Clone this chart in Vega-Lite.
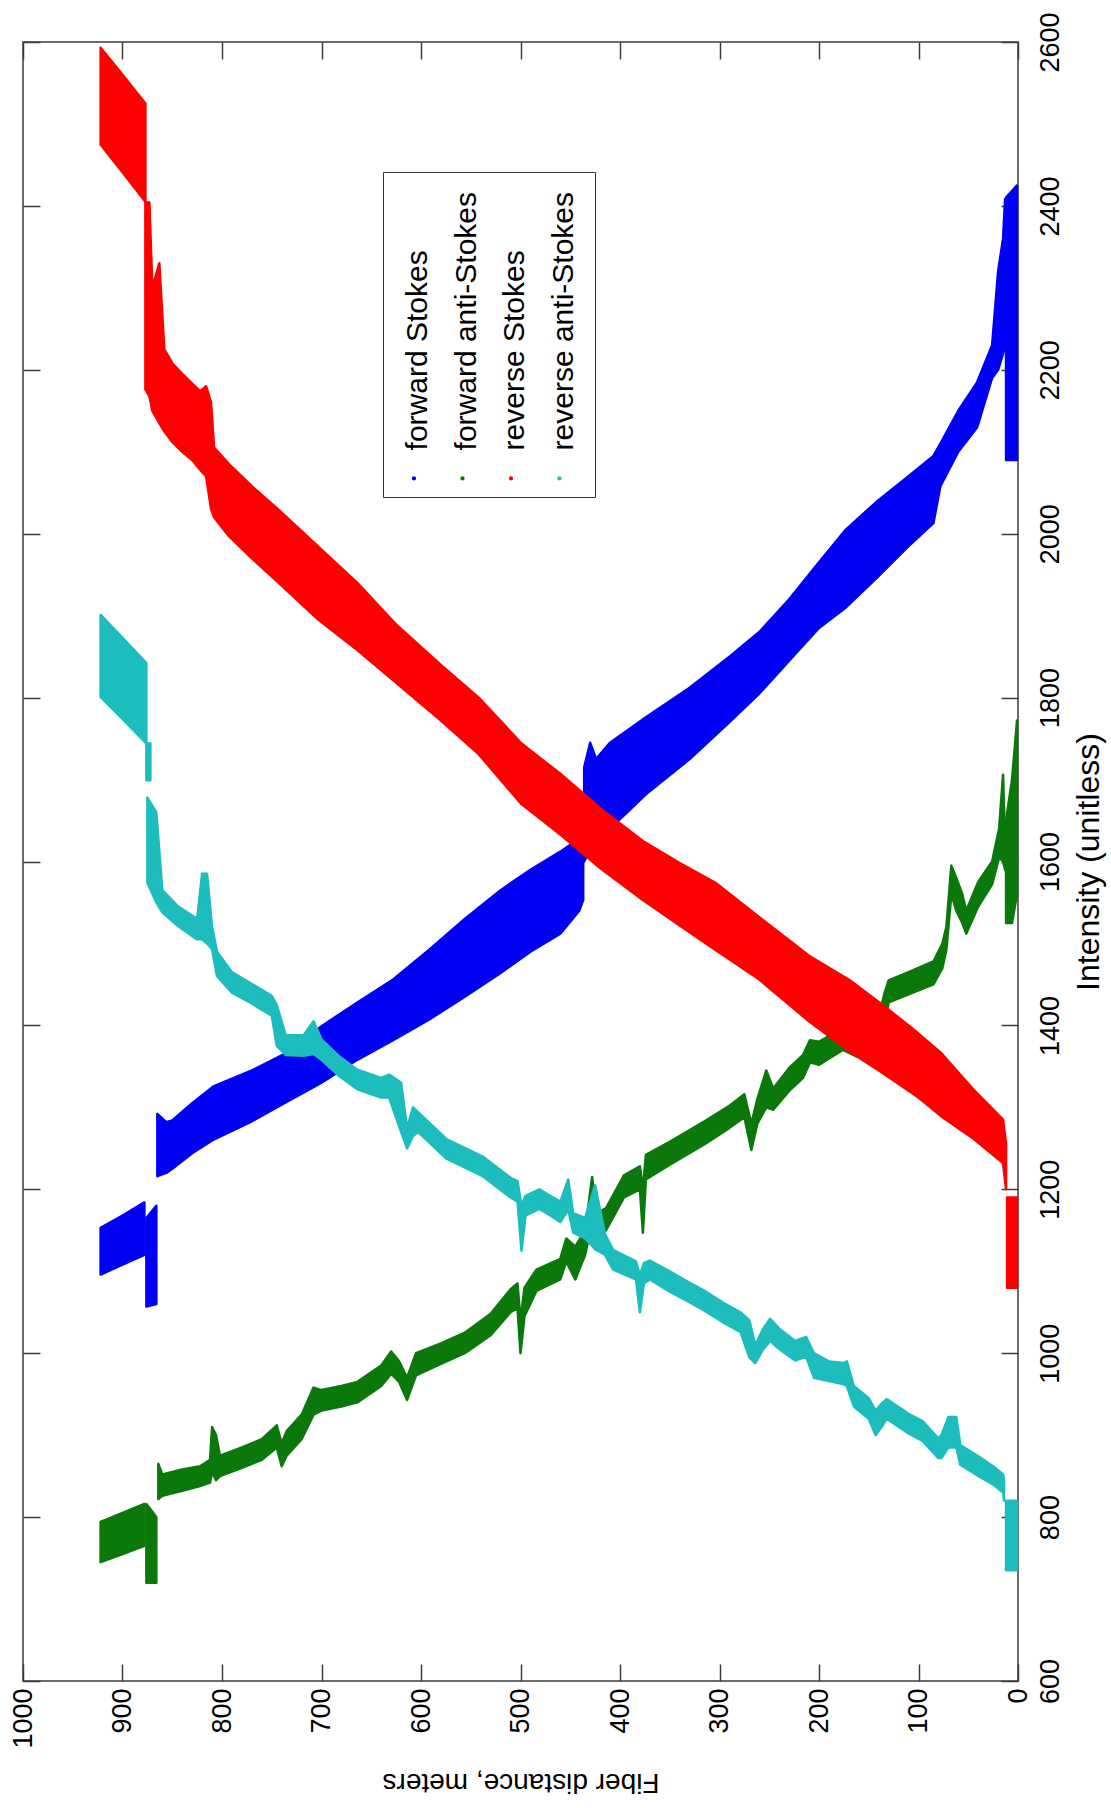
{
  "$schema": "https://vega.github.io/schema/vega-lite/v6.json",
  "width": 995,
  "height": 1639,
  "autosize": {"type": "none"},
  "padding": {"left": 23, "top": 42, "right": 93, "bottom": 127},
  "background": "white",
  "config": {
    "view": {"stroke": "#3c3c3c", "strokeWidth": 1.5},
    "font": "Liberation Sans",
    "axis": {"grid": false, "domain": false, "tickColor": "#3c3c3c", "tickWidth": 1.5, "labelColor": "black", "titleColor": "black", "labelFont": "Liberation Sans", "titleFont": "Liberation Sans", "labelFontSize": 27, "titleFontSize": 29, "titleFontWeight": "normal", "labelFlush": false, "labelOverlap": false, "labelBound": false, "format": "d"}
  },
  "datasets": {
    "bands": [
      {"s":"forward Stokes","g":"b1","d":922,"lo":1096,"hi":1153},
      {"s":"forward Stokes","g":"b1","d":900,"lo":1108,"hi":1168},
      {"s":"forward Stokes","g":"b1","d":878,"lo":1120,"hi":1184},
      {"s":"forward Stokes","g":"b2","d":876,"lo":1057,"hi":1165},
      {"s":"forward Stokes","g":"b2","d":866,"lo":1060,"hi":1180},
      {"s":"forward Stokes","g":"b3","d":865,"lo":1216,"hi":1292},
      {"s":"forward Stokes","g":"b3","d":856,"lo":1220,"hi":1282},
      {"s":"forward Stokes","g":"b3","d":850,"lo":1225,"hi":1284},
      {"s":"forward Stokes","g":"b3","d":830,"lo":1244,"hi":1305},
      {"s":"forward Stokes","g":"b3","d":808,"lo":1261,"hi":1326},
      {"s":"forward Stokes","g":"b3","d":770,"lo":1283,"hi":1345},
      {"s":"forward Stokes","g":"b3","d":736,"lo":1306,"hi":1366},
      {"s":"forward Stokes","g":"b3","d":700,"lo":1330,"hi":1399},
      {"s":"forward Stokes","g":"b3","d":664,"lo":1358,"hi":1428},
      {"s":"forward Stokes","g":"b3","d":628,"lo":1382,"hi":1456},
      {"s":"forward Stokes","g":"b3","d":592,"lo":1407,"hi":1492},
      {"s":"forward Stokes","g":"b3","d":556,"lo":1435,"hi":1530},
      {"s":"forward Stokes","g":"b3","d":520,"lo":1464,"hi":1565},
      {"s":"forward Stokes","g":"b3","d":490,"lo":1490,"hi":1590},
      {"s":"forward Stokes","g":"b3","d":460,"lo":1512,"hi":1612},
      {"s":"forward Stokes","g":"b3","d":441,"lo":1540,"hi":1628},
      {"s":"forward Stokes","g":"b3","d":437,"lo":1553,"hi":1632},
      {"s":"forward Stokes","g":"b4","d":436,"lo":1600,"hi":1715},
      {"s":"forward Stokes","g":"b4","d":430,"lo":1615,"hi":1745},
      {"s":"forward Stokes","g":"b4","d":424,"lo":1622,"hi":1725},
      {"s":"forward Stokes","g":"b4","d":410,"lo":1640,"hi":1745},
      {"s":"forward Stokes","g":"b4","d":374,"lo":1682,"hi":1776},
      {"s":"forward Stokes","g":"b4","d":330,"lo":1725,"hi":1812},
      {"s":"forward Stokes","g":"b4","d":290,"lo":1770,"hi":1850},
      {"s":"forward Stokes","g":"b4","d":260,"lo":1805,"hi":1880},
      {"s":"forward Stokes","g":"b4","d":230,"lo":1845,"hi":1920},
      {"s":"forward Stokes","g":"b4","d":200,"lo":1885,"hi":1965},
      {"s":"forward Stokes","g":"b4","d":173,"lo":1910,"hi":2005},
      {"s":"forward Stokes","g":"b4","d":143,"lo":1945,"hi":2038},
      {"s":"forward Stokes","g":"b4","d":110,"lo":1985,"hi":2070},
      {"s":"forward Stokes","g":"b4","d":85,"lo":2013,"hi":2095},
      {"s":"forward Stokes","g":"b4","d":78,"lo":2058,"hi":2110},
      {"s":"forward Stokes","g":"b4","d":60,"lo":2100,"hi":2150},
      {"s":"forward Stokes","g":"b4","d":41,"lo":2130,"hi":2185},
      {"s":"forward Stokes","g":"b4","d":26,"lo":2190,"hi":2230},
      {"s":"forward Stokes","g":"b4","d":20,"lo":2200,"hi":2320},
      {"s":"forward Stokes","g":"b4","d":15,"lo":2220,"hi":2360},
      {"s":"forward Stokes","g":"b4","d":13,"lo":2230,"hi":2408},
      {"s":"forward Stokes","g":"b5","d":12,"lo":2090,"hi":2410},
      {"s":"forward Stokes","g":"b5","d":1,"lo":2090,"hi":2425},

      {"s":"forward anti-Stokes","g":"g1","d":922,"lo":745,"hi":794},
      {"s":"forward anti-Stokes","g":"g1","d":900,"lo":755,"hi":805},
      {"s":"forward anti-Stokes","g":"g1","d":878,"lo":765,"hi":816},
      {"s":"forward anti-Stokes","g":"g2","d":876,"lo":720,"hi":816},
      {"s":"forward anti-Stokes","g":"g2","d":866,"lo":720,"hi":800},
      {"s":"forward anti-Stokes","g":"g3","d":864,"lo":822,"hi":865},
      {"s":"forward anti-Stokes","g":"g3","d":860,"lo":826,"hi":852},
      {"s":"forward anti-Stokes","g":"g3","d":840,"lo":832,"hi":858},
      {"s":"forward anti-Stokes","g":"g3","d":822,"lo":838,"hi":862},
      {"s":"forward anti-Stokes","g":"g3","d":812,"lo":842,"hi":870},
      {"s":"forward anti-Stokes","g":"g3","d":810,"lo":855,"hi":910},
      {"s":"forward anti-Stokes","g":"g3","d":806,"lo":845,"hi":900},
      {"s":"forward anti-Stokes","g":"g3","d":802,"lo":850,"hi":875},
      {"s":"forward anti-Stokes","g":"g3","d":780,"lo":860,"hi":885},
      {"s":"forward anti-Stokes","g":"g3","d":760,"lo":870,"hi":895},
      {"s":"forward anti-Stokes","g":"g3","d":745,"lo":885,"hi":912},
      {"s":"forward anti-Stokes","g":"g3","d":740,"lo":862,"hi":890},
      {"s":"forward anti-Stokes","g":"g3","d":735,"lo":875,"hi":905},
      {"s":"forward anti-Stokes","g":"g3","d":720,"lo":895,"hi":925},
      {"s":"forward anti-Stokes","g":"g3","d":708,"lo":925,"hi":958},
      {"s":"forward anti-Stokes","g":"g3","d":700,"lo":930,"hi":955},
      {"s":"forward anti-Stokes","g":"g3","d":680,"lo":935,"hi":960},
      {"s":"forward anti-Stokes","g":"g3","d":664,"lo":940,"hi":965},
      {"s":"forward anti-Stokes","g":"g3","d":640,"lo":960,"hi":985},
      {"s":"forward anti-Stokes","g":"g3","d":630,"lo":975,"hi":1002},
      {"s":"forward anti-Stokes","g":"g3","d":622,"lo":965,"hi":990},
      {"s":"forward anti-Stokes","g":"g3","d":614,"lo":943,"hi":970},
      {"s":"forward anti-Stokes","g":"g3","d":605,"lo":973,"hi":1000},
      {"s":"forward anti-Stokes","g":"g3","d":580,"lo":987,"hi":1012},
      {"s":"forward anti-Stokes","g":"g3","d":556,"lo":1000,"hi":1025},
      {"s":"forward anti-Stokes","g":"g3","d":530,"lo":1022,"hi":1048},
      {"s":"forward anti-Stokes","g":"g3","d":510,"lo":1050,"hi":1078},
      {"s":"forward anti-Stokes","g":"g3","d":503,"lo":1055,"hi":1085},
      {"s":"forward anti-Stokes","g":"g3","d":500,"lo":1000,"hi":1040},
      {"s":"forward anti-Stokes","g":"g3","d":496,"lo":1045,"hi":1080},
      {"s":"forward anti-Stokes","g":"g3","d":484,"lo":1076,"hi":1102},
      {"s":"forward anti-Stokes","g":"g3","d":460,"lo":1090,"hi":1115},
      {"s":"forward anti-Stokes","g":"g3","d":454,"lo":1112,"hi":1140},
      {"s":"forward anti-Stokes","g":"g3","d":445,"lo":1090,"hi":1130},
      {"s":"forward anti-Stokes","g":"g3","d":435,"lo":1120,"hi":1150},
      {"s":"forward anti-Stokes","g":"g3","d":428,"lo":1160,"hi":1215},
      {"s":"forward anti-Stokes","g":"g3","d":424,"lo":1140,"hi":1170},
      {"s":"forward anti-Stokes","g":"g3","d":414,"lo":1150,"hi":1177},
      {"s":"forward anti-Stokes","g":"g3","d":396,"lo":1190,"hi":1217},
      {"s":"forward anti-Stokes","g":"g3","d":380,"lo":1200,"hi":1228},
      {"s":"forward anti-Stokes","g":"g3","d":377,"lo":1147,"hi":1200},
      {"s":"forward anti-Stokes","g":"g3","d":374,"lo":1212,"hi":1242},
      {"s":"forward anti-Stokes","g":"g3","d":350,"lo":1230,"hi":1258},
      {"s":"forward anti-Stokes","g":"g3","d":315,"lo":1255,"hi":1283},
      {"s":"forward anti-Stokes","g":"g3","d":290,"lo":1275,"hi":1302},
      {"s":"forward anti-Stokes","g":"g3","d":275,"lo":1288,"hi":1316},
      {"s":"forward anti-Stokes","g":"g3","d":268,"lo":1248,"hi":1280},
      {"s":"forward anti-Stokes","g":"g3","d":262,"lo":1280,"hi":1310},
      {"s":"forward anti-Stokes","g":"g3","d":253,"lo":1300,"hi":1345},
      {"s":"forward anti-Stokes","g":"g3","d":246,"lo":1297,"hi":1323},
      {"s":"forward anti-Stokes","g":"g3","d":230,"lo":1320,"hi":1348},
      {"s":"forward anti-Stokes","g":"g3","d":216,"lo":1336,"hi":1364},
      {"s":"forward anti-Stokes","g":"g3","d":209,"lo":1355,"hi":1382},
      {"s":"forward anti-Stokes","g":"g3","d":200,"lo":1352,"hi":1380},
      {"s":"forward anti-Stokes","g":"g3","d":176,"lo":1370,"hi":1397},
      {"s":"forward anti-Stokes","g":"g3","d":162,"lo":1362,"hi":1390},
      {"s":"forward anti-Stokes","g":"g3","d":150,"lo":1375,"hi":1402},
      {"s":"forward anti-Stokes","g":"g3","d":140,"lo":1380,"hi":1410},
      {"s":"forward anti-Stokes","g":"g3","d":134,"lo":1400,"hi":1440},
      {"s":"forward anti-Stokes","g":"g3","d":130,"lo":1428,"hi":1455},
      {"s":"forward anti-Stokes","g":"g3","d":110,"lo":1438,"hi":1465},
      {"s":"forward anti-Stokes","g":"g3","d":85,"lo":1450,"hi":1478},
      {"s":"forward anti-Stokes","g":"g3","d":76,"lo":1470,"hi":1500},
      {"s":"forward anti-Stokes","g":"g3","d":72,"lo":1492,"hi":1520},
      {"s":"forward anti-Stokes","g":"g3","d":67,"lo":1560,"hi":1595},
      {"s":"forward anti-Stokes","g":"g3","d":62,"lo":1540,"hi":1580},
      {"s":"forward anti-Stokes","g":"g3","d":56,"lo":1525,"hi":1560},
      {"s":"forward anti-Stokes","g":"g3","d":52,"lo":1512,"hi":1540},
      {"s":"forward anti-Stokes","g":"g3","d":40,"lo":1545,"hi":1575},
      {"s":"forward anti-Stokes","g":"g3","d":26,"lo":1572,"hi":1600},
      {"s":"forward anti-Stokes","g":"g3","d":19,"lo":1605,"hi":1640},
      {"s":"forward anti-Stokes","g":"g3","d":15,"lo":1600,"hi":1706},
      {"s":"forward anti-Stokes","g":"g3","d":13,"lo":1590,"hi":1620},
      {"s":"forward anti-Stokes","g":"g4","d":12,"lo":1525,"hi":1650},
      {"s":"forward anti-Stokes","g":"g4","d":6,"lo":1525,"hi":1700},
      {"s":"forward anti-Stokes","g":"g4","d":1,"lo":1560,"hi":1772},

      {"s":"reverse Stokes","g":"r1","d":922,"lo":2475,"hi":2593},
      {"s":"reverse Stokes","g":"r1","d":900,"lo":2441,"hi":2560},
      {"s":"reverse Stokes","g":"r1","d":877,"lo":2405,"hi":2525},
      {"s":"reverse Stokes","g":"r2","d":877,"lo":2176,"hi":2404},
      {"s":"reverse Stokes","g":"r2","d":873,"lo":2168,"hi":2404},
      {"s":"reverse Stokes","g":"r2","d":870,"lo":2150,"hi":2300},
      {"s":"reverse Stokes","g":"r2","d":863,"lo":2135,"hi":2330},
      {"s":"reverse Stokes","g":"r2","d":858,"lo":2125,"hi":2225},
      {"s":"reverse Stokes","g":"r2","d":850,"lo":2112,"hi":2208},
      {"s":"reverse Stokes","g":"r2","d":840,"lo":2100,"hi":2195},
      {"s":"reverse Stokes","g":"r2","d":830,"lo":2090,"hi":2183},
      {"s":"reverse Stokes","g":"r2","d":822,"lo":2078,"hi":2174},
      {"s":"reverse Stokes","g":"r2","d":816,"lo":2070,"hi":2180},
      {"s":"reverse Stokes","g":"r2","d":811,"lo":2030,"hi":2160},
      {"s":"reverse Stokes","g":"r2","d":808,"lo":2020,"hi":2105},
      {"s":"reverse Stokes","g":"r2","d":793,"lo":1997,"hi":2085},
      {"s":"reverse Stokes","g":"r2","d":770,"lo":1970,"hi":2058},
      {"s":"reverse Stokes","g":"r2","d":743,"lo":1940,"hi":2029},
      {"s":"reverse Stokes","g":"r2","d":703,"lo":1895,"hi":1984},
      {"s":"reverse Stokes","g":"r2","d":664,"lo":1858,"hi":1940},
      {"s":"reverse Stokes","g":"r2","d":624,"lo":1817,"hi":1888},
      {"s":"reverse Stokes","g":"r2","d":580,"lo":1772,"hi":1840},
      {"s":"reverse Stokes","g":"r2","d":542,"lo":1731,"hi":1800},
      {"s":"reverse Stokes","g":"r2","d":499,"lo":1670,"hi":1744},
      {"s":"reverse Stokes","g":"r2","d":460,"lo":1633,"hi":1707},
      {"s":"reverse Stokes","g":"r2","d":420,"lo":1592,"hi":1665},
      {"s":"reverse Stokes","g":"r2","d":377,"lo":1553,"hi":1625},
      {"s":"reverse Stokes","g":"r2","d":340,"lo":1522,"hi":1598},
      {"s":"reverse Stokes","g":"r2","d":304,"lo":1492,"hi":1574},
      {"s":"reverse Stokes","g":"r2","d":260,"lo":1456,"hi":1532},
      {"s":"reverse Stokes","g":"r2","d":210,"lo":1405,"hi":1485},
      {"s":"reverse Stokes","g":"r2","d":169,"lo":1368,"hi":1455},
      {"s":"reverse Stokes","g":"r2","d":136,"lo":1342,"hi":1425},
      {"s":"reverse Stokes","g":"r2","d":100,"lo":1312,"hi":1390},
      {"s":"reverse Stokes","g":"r2","d":77,"lo":1289,"hi":1366},
      {"s":"reverse Stokes","g":"r2","d":45,"lo":1262,"hi":1322},
      {"s":"reverse Stokes","g":"r2","d":15,"lo":1232,"hi":1285},
      {"s":"reverse Stokes","g":"r2","d":12,"lo":1200,"hi":1255},
      {"s":"reverse Stokes","g":"r3","d":11,"lo":1080,"hi":1190},
      {"s":"reverse Stokes","g":"r3","d":1,"lo":1080,"hi":1190},

      {"s":"reverse anti-Stokes","g":"c1","d":922,"lo":1801,"hi":1901},
      {"s":"reverse anti-Stokes","g":"c1","d":900,"lo":1774,"hi":1873},
      {"s":"reverse anti-Stokes","g":"c1","d":876,"lo":1744,"hi":1842},
      {"s":"reverse anti-Stokes","g":"c2","d":876,"lo":1699,"hi":1744},
      {"s":"reverse anti-Stokes","g":"c2","d":872,"lo":1699,"hi":1744},
      {"s":"reverse anti-Stokes","g":"c3","d":875,"lo":1574,"hi":1678},
      {"s":"reverse anti-Stokes","g":"c3","d":866,"lo":1550,"hi":1660},
      {"s":"reverse anti-Stokes","g":"c3","d":860,"lo":1538,"hi":1565},
      {"s":"reverse anti-Stokes","g":"c3","d":844,"lo":1521,"hi":1545},
      {"s":"reverse anti-Stokes","g":"c3","d":825,"lo":1505,"hi":1530},
      {"s":"reverse anti-Stokes","g":"c3","d":820,"lo":1505,"hi":1585},
      {"s":"reverse anti-Stokes","g":"c3","d":815,"lo":1500,"hi":1585},
      {"s":"reverse anti-Stokes","g":"c3","d":810,"lo":1493,"hi":1520},
      {"s":"reverse anti-Stokes","g":"c3","d":805,"lo":1460,"hi":1490},
      {"s":"reverse anti-Stokes","g":"c3","d":790,"lo":1440,"hi":1465},
      {"s":"reverse anti-Stokes","g":"c3","d":772,"lo":1428,"hi":1452},
      {"s":"reverse anti-Stokes","g":"c3","d":750,"lo":1412,"hi":1436},
      {"s":"reverse anti-Stokes","g":"c3","d":745,"lo":1375,"hi":1425},
      {"s":"reverse anti-Stokes","g":"c3","d":736,"lo":1364,"hi":1388},
      {"s":"reverse anti-Stokes","g":"c3","d":718,"lo":1363,"hi":1388},
      {"s":"reverse anti-Stokes","g":"c3","d":708,"lo":1365,"hi":1405},
      {"s":"reverse anti-Stokes","g":"c3","d":700,"lo":1358,"hi":1383},
      {"s":"reverse anti-Stokes","g":"c3","d":682,"lo":1338,"hi":1362},
      {"s":"reverse anti-Stokes","g":"c3","d":664,"lo":1322,"hi":1346},
      {"s":"reverse anti-Stokes","g":"c3","d":640,"lo":1312,"hi":1336},
      {"s":"reverse anti-Stokes","g":"c3","d":632,"lo":1312,"hi":1340},
      {"s":"reverse anti-Stokes","g":"c3","d":620,"lo":1270,"hi":1330},
      {"s":"reverse anti-Stokes","g":"c3","d":614,"lo":1250,"hi":1275},
      {"s":"reverse anti-Stokes","g":"c3","d":608,"lo":1265,"hi":1300},
      {"s":"reverse anti-Stokes","g":"c3","d":603,"lo":1270,"hi":1294},
      {"s":"reverse anti-Stokes","g":"c3","d":574,"lo":1237,"hi":1261},
      {"s":"reverse anti-Stokes","g":"c3","d":538,"lo":1216,"hi":1240},
      {"s":"reverse anti-Stokes","g":"c3","d":510,"lo":1190,"hi":1214},
      {"s":"reverse anti-Stokes","g":"c3","d":503,"lo":1185,"hi":1210},
      {"s":"reverse anti-Stokes","g":"c3","d":499,"lo":1125,"hi":1180},
      {"s":"reverse anti-Stokes","g":"c3","d":495,"lo":1168,"hi":1192},
      {"s":"reverse anti-Stokes","g":"c3","d":481,"lo":1176,"hi":1200},
      {"s":"reverse anti-Stokes","g":"c3","d":470,"lo":1168,"hi":1192},
      {"s":"reverse anti-Stokes","g":"c3","d":460,"lo":1160,"hi":1185},
      {"s":"reverse anti-Stokes","g":"c3","d":452,"lo":1175,"hi":1212},
      {"s":"reverse anti-Stokes","g":"c3","d":447,"lo":1147,"hi":1171},
      {"s":"reverse anti-Stokes","g":"c3","d":435,"lo":1140,"hi":1165},
      {"s":"reverse anti-Stokes","g":"c3","d":425,"lo":1127,"hi":1205},
      {"s":"reverse anti-Stokes","g":"c3","d":415,"lo":1120,"hi":1145},
      {"s":"reverse anti-Stokes","g":"c3","d":407,"lo":1102,"hi":1126},
      {"s":"reverse anti-Stokes","g":"c3","d":384,"lo":1090,"hi":1112},
      {"s":"reverse anti-Stokes","g":"c3","d":380,"lo":1050,"hi":1095},
      {"s":"reverse anti-Stokes","g":"c3","d":376,"lo":1085,"hi":1110},
      {"s":"reverse anti-Stokes","g":"c3","d":370,"lo":1090,"hi":1113},
      {"s":"reverse anti-Stokes","g":"c3","d":350,"lo":1075,"hi":1100},
      {"s":"reverse anti-Stokes","g":"c3","d":333,"lo":1064,"hi":1088},
      {"s":"reverse anti-Stokes","g":"c3","d":315,"lo":1052,"hi":1076},
      {"s":"reverse anti-Stokes","g":"c3","d":297,"lo":1038,"hi":1062},
      {"s":"reverse anti-Stokes","g":"c3","d":279,"lo":1026,"hi":1050},
      {"s":"reverse anti-Stokes","g":"c3","d":270,"lo":995,"hi":1040},
      {"s":"reverse anti-Stokes","g":"c3","d":264,"lo":988,"hi":1010},
      {"s":"reverse anti-Stokes","g":"c3","d":256,"lo":1005,"hi":1030},
      {"s":"reverse anti-Stokes","g":"c3","d":249,"lo":1015,"hi":1042},
      {"s":"reverse anti-Stokes","g":"c3","d":240,"lo":1005,"hi":1030},
      {"s":"reverse anti-Stokes","g":"c3","d":224,"lo":991,"hi":1015},
      {"s":"reverse anti-Stokes","g":"c3","d":213,"lo":996,"hi":1020},
      {"s":"reverse anti-Stokes","g":"c3","d":205,"lo":970,"hi":1000},
      {"s":"reverse anti-Stokes","g":"c3","d":190,"lo":966,"hi":990},
      {"s":"reverse anti-Stokes","g":"c3","d":175,"lo":962,"hi":988},
      {"s":"reverse anti-Stokes","g":"c3","d":172,"lo":960,"hi":990},
      {"s":"reverse anti-Stokes","g":"c3","d":165,"lo":935,"hi":960},
      {"s":"reverse anti-Stokes","g":"c3","d":150,"lo":920,"hi":945},
      {"s":"reverse anti-Stokes","g":"c3","d":143,"lo":900,"hi":930},
      {"s":"reverse anti-Stokes","g":"c3","d":136,"lo":912,"hi":940},
      {"s":"reverse anti-Stokes","g":"c3","d":132,"lo":920,"hi":944},
      {"s":"reverse anti-Stokes","g":"c3","d":110,"lo":902,"hi":926},
      {"s":"reverse anti-Stokes","g":"c3","d":96,"lo":893,"hi":917},
      {"s":"reverse anti-Stokes","g":"c3","d":80,"lo":872,"hi":896},
      {"s":"reverse anti-Stokes","g":"c3","d":77,"lo":872,"hi":900},
      {"s":"reverse anti-Stokes","g":"c3","d":70,"lo":885,"hi":922},
      {"s":"reverse anti-Stokes","g":"c3","d":62,"lo":885,"hi":922},
      {"s":"reverse anti-Stokes","g":"c3","d":58,"lo":864,"hi":888},
      {"s":"reverse anti-Stokes","g":"c3","d":41,"lo":851,"hi":875},
      {"s":"reverse anti-Stokes","g":"c3","d":25,"lo":840,"hi":862},
      {"s":"reverse anti-Stokes","g":"c3","d":15,"lo":830,"hi":852},
      {"s":"reverse anti-Stokes","g":"c3","d":14,"lo":820,"hi":845},
      {"s":"reverse anti-Stokes","g":"c4","d":12,"lo":735,"hi":820},
      {"s":"reverse anti-Stokes","g":"c4","d":1,"lo":735,"hi":820}
    ]
  },
  "data": {"name": "bands"},
  "layer": [
    {
      "mark": {"type": "area", "opacity": 1, "interpolate": "linear", "strokeWidth": 2.5, "strokeJoin": "round"},
      "encoding": {
        "x": {"field": "d", "type": "quantitative",
              "scale": {"domain": [0, 1000], "reverse": true, "nice": false, "zero": false},
              "axis": {"orient": "bottom", "values": [0,100,200,300,400,500,600,700,800,900,1000],
                       "labelAngle": 270, "labelPadding": 24, "tickSize": -17,
                       "title": "Fiber distance, meters", "titleFontSize": 28, "titleAngle": 180, "titleBaseline": "middle", "titleY": 100, "titleAlign": "center"}},
        "y": {"field": "lo", "type": "quantitative",
              "scale": {"domain": [600, 2600], "nice": false, "zero": false},
              "axis": {"orient": "right", "values": [600,800,1000,1200,1400,1600,1800,2000,2200,2400,2600],
                       "labelAngle": 270, "labelPadding": 36, "tickSize": -17,
                       "title": "Intensity (unitless)", "titleFontSize": 32, "titleAngle": 270, "titleBaseline": "middle", "titleX": 70, "titleAlign": "center"}},
        "y2": {"field": "hi"},
        "detail": {"field": "g", "type": "nominal"},
        "stroke": {"field": "s", "type": "nominal",
                  "scale": {"domain": ["forward Stokes", "forward anti-Stokes", "reverse Stokes", "reverse anti-Stokes"],
                            "range": ["#0000f5", "#0b780b", "#ff0000", "#1dbdbd"]},
                  "legend": null},
        "color": {"field": "s", "type": "nominal",
                  "scale": {"domain": ["forward Stokes", "forward anti-Stokes", "reverse Stokes", "reverse anti-Stokes"],
                            "range": ["#0000f5", "#0b780b", "#ff0000", "#1dbdbd"]},
                  "legend": {"orient": "none", "legendX": 360, "legendY": 130, "direction": "horizontal", "columns": 4,
                             "title": null, "symbolType": "circle", "symbolSize": 18, "symbolStrokeWidth": 0,
                             "labelFont": "Liberation Sans", "labelFontSize": 30, "labelColor": "black", "labelLimit": 0,
                             "labelOffset": -11, "columnPadding": 14.5, "padding": 16,
                             "strokeColor": "#333333", "fillColor": "white",
                             "labelExpr": "length(datum.label) < 16 ? datum.label + '       ' : datum.label",
                             "encoding": {"labels": {"angle": {"value": 270}, "align": {"value": "left"}, "baseline": {"value": "middle"}, "dx": {"value": 28}, "y": {"value": 290}},
                                          "symbols": {"y": {"value": 290}, "strokeWidth": {"value": 0}}}}}
      }
    },
    {
      "mark": {"type": "area", "opacity": 0},
      "encoding": {
        "x": {"field": "d", "type": "quantitative",
              "axis": {"orient": "top", "values": [0,100,200,300,400,500,600,700,800,900,1000], "labels": false, "title": null, "tickSize": -17}},
        "y": {"field": "lo", "type": "quantitative",
              "axis": {"orient": "left", "values": [600,800,1000,1200,1400,1600,1800,2000,2200,2400,2600], "labels": false, "title": null, "tickSize": -17}},
        "y2": {"field": "hi"},
        "detail": {"field": "g", "type": "nominal"}
      }
    }
  ],
  "resolve": {"axis": {"x": "independent", "y": "independent"}}
}
